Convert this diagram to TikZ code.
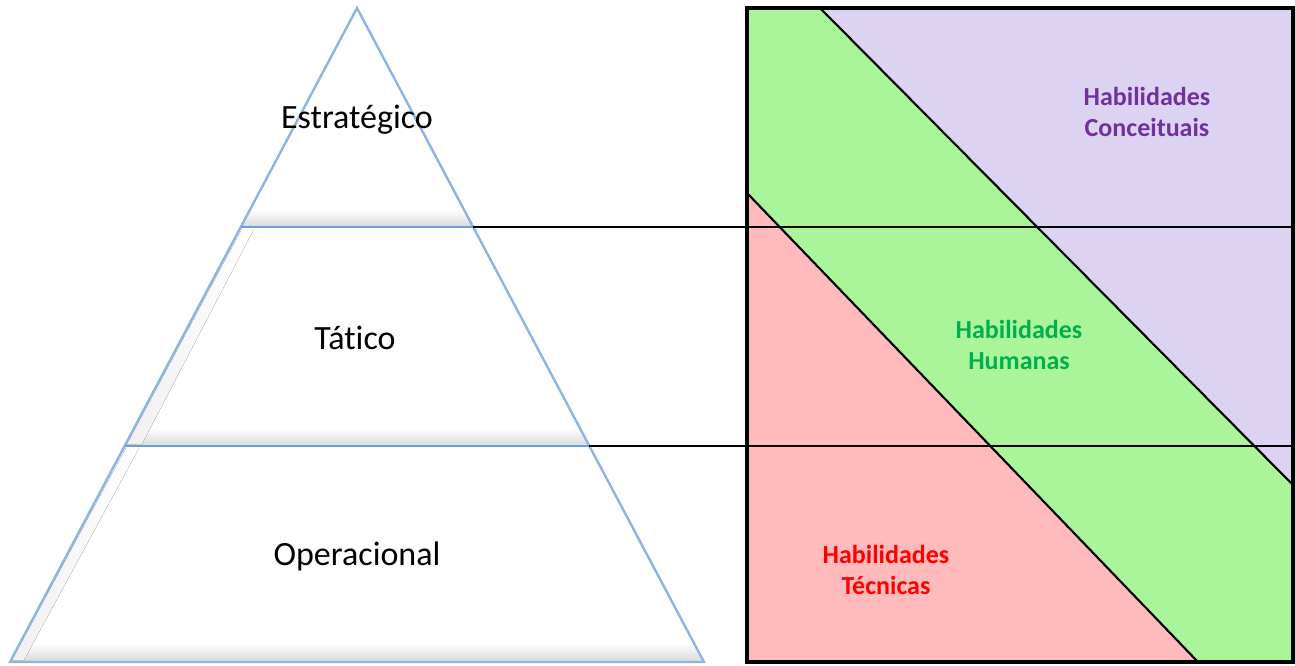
\documentclass[tikz,border=0pt]{standalone}
\usepackage{fontspec}
\setmainfont{Carlito}[Ligatures=NoCommon]
\definecolor{pblue}{HTML}{8DB4E2}
\definecolor{dblue}{HTML}{5B95D5}
\definecolor{cpurple}{HTML}{DCD3F2}
\definecolor{cgreen}{HTML}{AAF59A}
\definecolor{cpink}{HTML}{FFBBBB}
\definecolor{tpurple}{HTML}{7030A0}
\definecolor{tgreen}{HTML}{00B050}
\definecolor{tred}{HTML}{FF0000}
\tikzset{
  pedge/.style={draw=pblue, line width=1.8pt, line join=miter},
  pdiv/.style={draw=dblue!70!pblue, line width=1.8pt},
  conn/.style={draw=black, line width=1.2pt},
  diag/.style={draw=black, line width=1.6pt},
  lvl/.style={font=\fontsize{25.5}{30}\selectfont, inner sep=0pt},
  skill/.style={font=\fontsize{19.5}{23.5}\selectfont\bfseries, align=center, inner sep=0pt},
  bevel/.style={top color=white, bottom color=black!14, draw=none}
}
\begin{document}
\begin{tikzpicture}[x=0.75pt,y=-0.75pt]
\useasboundingbox (0,0) rectangle (1295,665);
% pyramid corners
\coordinate (A) at (357,8);
\coordinate (BL) at (10,662);
\coordinate (BR) at (704,662);
\coordinate (L1) at (240.8,227);
\coordinate (R1) at (473.2,227);
\coordinate (L2) at (124.6,446);
\coordinate (R2) at (589.4,446);
% box corners
\coordinate (TL) at (747,8);
\coordinate (TR) at (1293,8);
\coordinate (BBR) at (1293,662);
\coordinate (BBL) at (747,662);
\coordinate (P1) at (820,8);
\coordinate (P2) at (1293,485);
\coordinate (G1) at (747,193);
\coordinate (G2) at (1198,662);
\coordinate (E1) at (1293,227);
\coordinate (E2) at (1293,446);
% pyramid fill
\fill[white] (A) -- (BR) -- (BL) -- cycle;
% bevels
\fill[bevel] (251,209) -- (463,209) -- (472,226) -- (242,226) -- cycle;
\fill[bevel] (136,428) -- (579,428) -- (588,445) -- (126,445) -- cycle;
\fill[bevel] (20,643) -- (694,643) -- (703,661) -- (11,661) -- cycle;
\fill[left color=black!6, right color=white] (242,229) -- (254,229) -- (142,444) -- (127,444) -- cycle;
\fill[left color=black!6, right color=white] (126,448) -- (139,448) -- (24,660) -- (12,660) -- cycle;
% box fills
\fill[cpurple] (P1) -- (TR) -- (P2) -- cycle;
\fill[cgreen] (TL) -- (P1) -- (P2) -- (BBR) -- (G2) -- (G1) -- cycle;
\fill[cpink] (G1) -- (G2) -- (BBL) -- cycle;
% pyramid outline
\draw[pedge] (A) -- (BR) -- (BL) -- cycle;
\draw[pdiv] (L1) -- (R1);
\draw[pdiv] (L2) -- (R2);
% connectors
\draw[conn] (R1) -- (E1);
\draw[conn] (R2) -- (E2);
% diagonals
\draw[diag] (P1) -- (P2);
\draw[diag] (G1) -- (G2);
% box border
\draw[black, line width=2.4pt] (TL) rectangle (BBR);
% labels
\node[lvl] (estr) at (357,120) {Estratégico};
\node[lvl] (tat) at (355,338) {Tático};
\node[lvl] (oper) at (357,556) {Operacional};
\node[skill, text=tpurple] (conc) at (1147,112) {Habilidades\\Conceituais};
\node[skill, text=tgreen] (hum) at (1019,345) {Habilidades\\Humanas};
\node[skill, text=tred] (tec) at (886,570) {Habilidades\\Técnicas};
\end{tikzpicture}
\end{document}
